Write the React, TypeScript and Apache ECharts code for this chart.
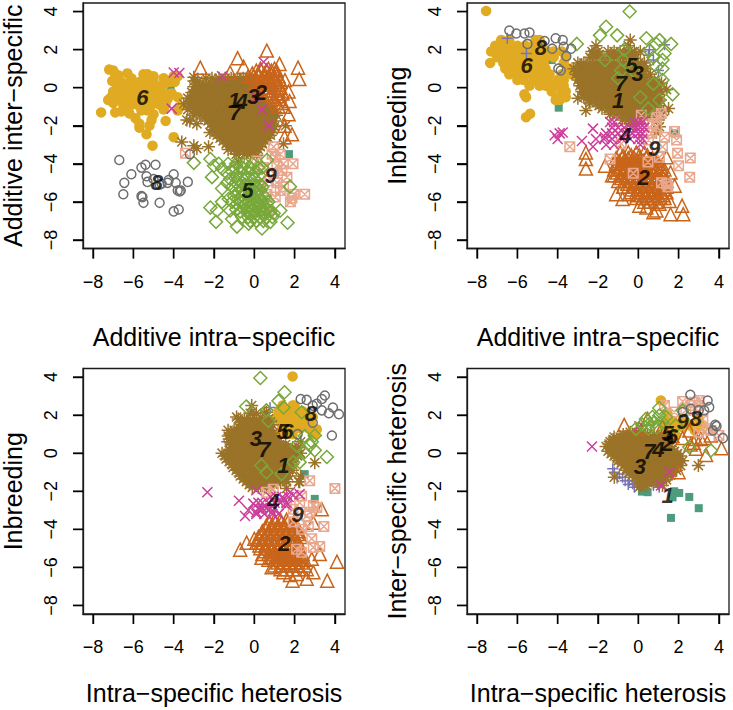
import React, { useEffect, useRef } from "react";
import * as echarts from "echarts";

const tickValues = [-8, -6, -4, -2, 0, 2, 4];
const groupColors = ["#4E9C7E", "#C8651B", "#7A74B5", "#CC3E9A", "#78A83A", "#E0AB22", "#9A7329", "#6E6E6E", "#E9A78E"];
const groupNames = ["1", "2", "3", "4", "5", "6", "7", "8", "9"];

// Flat lists are x,y,x,y...  Rows lists are [y, x, x, x...]
// Panel 1
const p1g1 = [-4.15,0, 1.72,-3.49];
const p1g2 = [.62,1.95, -.83,1.55, -.53,1.1, -2.68,1.05, 1.25,1.25, 2.17,1.05, 2.23,.45, 1.52,.4, 1.7,-.2, 1.75,-.7, 1.7,-1.4, 1.5,-2, 1.87,-2.45, 1.5,-2.6, -1.2,.8];
const p1g2Rows = [[1,.3,.7,1],[.9,.1,.35,.6,.85,1.1],[.75,-.1,.2,.5,.8,1.05],[.6,-.3,-.05,.2,.45,.7,.95,1.2],[.45,.1,.4,.7,1,1.25],[.3,.05,.3,.55,.8,1.05,1.3],[.15,.3,.6,.9,1.2],[0,.5,.75,1,1.3],[-.15,.6,.9,1.2],[-.3,.8,1.1,1.4],[-.45,.9,1.2],[-.6,1,1.3],[-.8,1.1,1.4],[-1,1.2,1.45]];
const p1g3 = [-.77,.25, -.6,.15, .9,-.3];
const p1g4 = [-3.72,.77, -4,.8, .46,1.35, -1.6,.6, .38,-1.14, .71,-1.98, -4.1,-1.1, .1,-.5];
const p1g5 = [-3,-3.95, -2.18,-3.75, -2,-4.1, -2.1,-4.7, -1.6,-4.25, -1.77,-4, -1.35,-4.5, -1.6,-5.3, -1.35,-5, -2.18,-6.3, -1.85,-6.45, -1.9,-7.05, -1.6,-6, -1.27,-5.85, -1.2,-6.45, -1.1,-6.9, -.86,-7.3, -.28,-7.15, .38,-7.4, .8,-7.05, 1.65,-7.1, 1.29,-6.45, .96,-6.6, .38,-4.2, .63,-3.8, 1.77,-5.2];
const p1g5Rows = [[-4,-1.3,-.9,-.5,-.1],[-4.2,-1,-.6,-.2,.2],[-4.4,-1.1,-.7,-.3,.1],[-4.6,-.9,-.5,-.1,.25],[-4.8,-1.2,-.8,-.4,0],[-5,-.9,-.6,-.2,.2],[-5.1,-.45,-.05,.3],[-5.2,-1.1,-.7,-.3,.1,.4],[-5.4,-.9,-.6,-.1,.3],[-5.5,-.8,-.5,-.2,.1],[-5.7,-1,-.6,-.2,.2,.5],[-5.85,-.8,-.4,0,.3],[-6,-1.1,-.7,-.3,.1,.4,.7],[-6.1,-.85,-.45,-.05,.25,.6],[-6.2,-.5,-.2,.2,.5],[-6.4,-.9,-.5,-.1,.3,.6],[-6.5,-.7,-.35,.05,.45,.8],[-6.6,-.3,0,.4],[-6.8,-.6,-.3,0,.3,.6,.9],[-7,-.2,.1,.45]];
const p1g6 = [-7.2,.95, -7,.9, -6.9,.6, -7.05,.35, -6.75,.65, -6.6,.3, -6.3,.75, -5.5,.7, -5.3,.7, -5.7,.3, -5.5,.3, -5.2,.3, -5,.3, -4.95,0, -4.6,.1, -4,.6, -3.8,.6, -3.95,.3, -4.2,.3, -6.3,.2, -6,.05, -5.8,0, -5.4,0, -5.2,-.1, -7.1,-.5, -7.25,-.65, -7,-.8, -7.6,-1.3, -6.9,-1.3, -6.6,-1.25, -6.2,-1.35, -5.9,-1.6, -5.7,-2.1, -5.7,-1.9, -5,-1.4, -5.1,-1.7, -5.2,-2, -5.35,-2.45, -4.4,-1.75, -4,-2.6, -5.05,-3.05, -3.8,-.5, -3.7,-1, -3.8,-1.2, -6.1,.5, -5,.6, -4.5,.5, -4.4,.25, -6.6,-.1, -7,-.2, -6.8,0, -4.5,-1.15, -6.4,-1.05];
const p1g6Rows = [[-.3,-6.6,-6.2,-5.9,-5.6,-5.3,-5,-4.7,-4.4,-4.1],[-.6,-6.8,-6.4,-6.1,-5.8,-5.5,-5.2,-4.9,-4.6,-4.3],[-.9,-6.5,-6.1,-5.8,-5.4,-5.1,-4.7,-4.4],[-1.2,-5.6,-5.3]];
const p1g7 = [-3.6,-2.85, -3,-3.05, -2.85,-3.2, -2.27,-3.1, -.78,-3.9, .13,-3.55, 1.45,-2.95, 1.55,-2, -3.35,-1.7, -2.85,-1.9, -3,.55];
const p1g7Rows = [[.35,-3,-2.8,-1.9,-1.6,-1.3,-1,-.7,-.4,-.1],[.05,-3,-2.7,-2.4,-2.1,-1.8,-1.5,-1.2,-.9,-.6,-.3,0,.3],[-.25,-3.1,-2.8,-2.5,-2.2,-1.9,-1.6,-1.3,-1,-.7,-.4,-.1,.2],[-.55,-3.3,-3,-2.7,-2.4,-2.1,-1.8,-1.5,-1.2,-.9,-.6,-.3,0,.3],[-.85,-3.5,-3.2,-2.9,-2.6,-2.3,-2,-1.7,-1.4,-1.1,-.8,-.5,-.2,.1,.4,.7],[-1.15,-3.3,-3,-2.7,-2.4,-2.1,-1.8,-1.5,-1.2,-.9,-.6,-.3,0,.3,.6,.9],[-1.45,-3,-2.7,-2.4,-2.1,-1.8,-1.5,-1.2,-.9,-.6,-.3,0,.3,.6,.9,1.1],[-1.75,-3.2,-2.3,-2,-1.7,-1.4,-1.1,-.8,-.5,-.2,.1,.4,.7,1],[-2.05,-2,-1.7,-1.4,-1.1,-.8,-.5,-.2,.1,.4,.7,1],[-2.35,-2.2,-1.9,-1.6,-1.3,-1,-.7,-.4,-.1,.2,.5,.8],[-2.65,-1.7,-1.4,-1.1,-.8,-.5,-.2,.1,.4,.7],[-2.95,-1.4,-1.1,-.8,-.5,-.2,.1,.4],[-3.25,-1.3,-1,-.7,-.4,-.1,.2],[-3.5,-.9,-.5,-.2]];
const p1g7Extra = [[.5,-2.4,-2.1,-1.75,-1.45,-1.15,-.85,-.55,-.25],[.2,-2.85,-2.55,-2.25,-1.95,-1.65,-1.35,-1.05,-.75,-.45,-.15,.15],[-.1,-2.85,-2.55,-2.25,-1.95,-1.65,-1.35,-1.05,-.75,-.45,-.15,.15],[-.4,-3.05,-2.65,-2.35,-2.05,-1.75,-1.45,-1.15,-.85,-.55,-.25,.05,.35],[-.7,-3.15,-2.85,-2.55,-2.25,-1.95,-1.65,-1.35,-1.05,-.75,-.45,-.15,.15,.45],[-1,-3.15,-2.85,-2.55,-2.25,-1.95,-1.65,-1.35,-1.05,-.75,-.45,-.15,.15,.45,.75],[-1.3,-2.85,-2.55,-2.25,-1.95,-1.65,-1.35,-1.05,-.75,-.45,-.15,.15,.45,.75,1.05],[-1.6,-2.45,-2.15,-1.85,-1.55,-1.25,-.95,-.65,-.35,-.05,.25,.55,.85],[-1.9,-2.15,-1.85,-1.55,-1.25,-.95,-.65,-.35,-.05,.25,.55,.85],[-2.2,-2.05,-1.75,-1.45,-1.15,-.85,-.55,-.25,.05,.35,.65,.95],[-2.5,-1.85,-1.55,-1.25,-.95,-.65,-.35,-.05,.25,.55,.8],[-2.8,-1.55,-1.25,-.95,-.65,-.35,-.05,.25,.55],[-3.1,-1.15,-.85,-.55,-.25,.05,.3],[-3.35,-.75,-.35,-.05]];
const p1g8 = [-6.7,-3.8, -6.1,-4.55, -6.45,-5, -6.5,-5.6, -5.6,-4.2, -5.4,-4.05, -4.9,-4.05, -5.35,-4.65, -5.3,-4.95, -5,-4.8, -4.7,-5.1, -4.6,-5.05, -4.25,-4.85, -4,-4.55, -3.9,-5, -3.3,-4.95, -3.8,-5.4, -3.65,-5.4, -3.7,-5.45, -4.3,-5, -5.6,-5.7, -5.55,-5.75, -5.5,-6.05, -4.7,-6.05, -4,-6.5, -3.75,-6.4, -3.2,-3.5];
const p1g9 = [-3.42,-3.44, 2.5,-5.6, 1.95,-5.6, 1.87,-5.8, 1.79,-6, 1.92,-4, 1.62,-4.7, 1.37,-4.35, 1.45,-4, .96,-3.1, 1.04,-3.65, 1.12,-4.1, .96,-4.5, .71,-4.9, 1.12,-5, 1.29,-5.4, 1.04,-5.75, .63,-5.6, .71,-6.45, .3,-5.2, .46,-4.2, .13,-3.85, .88,-3.5, 1.29,-3.5, 1.45,-5.2];
const p1Labels = [[-1,-.67],[.33,-.23],[-.05,-.44],[-.63,-.75],[-.33,-5.4],[-5.55,-.49],[-.94,-1.28],[-4.84,-5],[.81,-4.6]];

// Panel 2
const p2g1 = [-3.95,-1.05, 1.8,-2.4, -4.3,1.45];
const p2g2 = [-2.6,-3.4, -2.6,-3.75, -2.6,-4.25, -1.65,-4.1, -1.3,-4.6, -1.1,-5.6, -.78,-5.85, .05,-6.2, .75,-6.55, 1.6,-6.65, 2.23,-6.65, 2.17,-6.2, 1.55,-5.95, 1.8,-5.15, 1.6,-4.45, 1.4,-3.65, -.75,-5.2, -.45,-5.6, 1.05,-6.1, .4,-6.3, .9,-6.45];
const p2g2Rows = [[-3.4,-.9,-.5,-.1,.3],[-3.55,-.75,-.35,.05,.45],[-3.7,-1.1,-.8,-.5,-.2,.1,.4,.7],[-3.85,-.95,-.65,-.35,-.05,.25,.55,.85],[-4,-1.1,-.8,-.5,-.2,.1,.4,.7,1],[-4.15,-.95,-.65,-.35,-.05,.25,.55,.85,1.15],[-4.3,-1.2,-.9,-.6,-.3,0,.3,.6,.9,1.3],[-4.45,-1.05,-.75,-.45,-.15,.15,.45,.75,1.1],[-4.6,-1.2,-.9,-.6,-.3,0,.3,.6,.9,1.3],[-4.75,-.85,-.55,-.25,.05,.35,.65,.95,1.25],[-4.9,-1,-.7,-.4,-.1,.2,.5,.8,1.1,1.4],[-5.05,-.55,-.25,.05,.35,.65,.95,1.25],[-5.2,-.5,-.2,.1,.4,.7,1,1.4],[-5.35,-.35,-.05,.25,.55,.85,1.25],[-5.5,-.4,-.1,.2,.5,.8,1.1,1.4],[-5.65,-.05,.35,.65,.95,1.25],[-5.8,-.1,.2,.5,.8,1.1,1.3],[-6,.3,.6,.9]];
const p2g3 = [1.3,2.25, .5,1.7, .3,1.35, 1,.9, .55,2, .75,1.45, -6.5,2.6, -5.55,1.8];
const p2g4 = [-3.9,-2.4, -3.75,-2.35, -4.15,-2.5, -4,-2.7, -2.8,-2.8, -2.25,-2.15, -2.1,-2.7, -2.25,-3.1, -1.65,-2.6];
const p2g4Rows = [[-1.8,-1.4,-1.2,-.2,0,.2],[-2.1,-1.3,-1,-.7,-.4,-.1,.1,.3],[-2.4,-1.6,-1.3,-1,-.6,-.3,0,.2],[-2.7,-1.7,-1.3,-.8,-.4,0,.2],[-3,-1.6,-1.2,.1]];
const p2g5 = [-.43,4, -1.6,3.2, -1.9,2.75, -1.05,2.75, -3.05,2.3, .4,2.6, 1.05,2.5, 1.63,2.3, .9,2.3, 1.3,1.8, -1.65,1.45, 1.2,1.45, 1.2,1, -.85,.9, -1,.5, 1.7,-.35, .1,-.5, 1.05,-.65, .5,-1.1, -.75,1.45, .55,1.95, .9,1.1, 1.2,.4, -.7,2, .75,.2, -.25,.9, .75,1.6];
const p2g6 = [-7.55,4.03, -5.65,-.35, -5.57,-.5, -5.37,-1.37, -5.57,-1.55, -7.35,1.3, -4.1,-.65, -3.9,-.65];
const p2g6Rows = [[2.5,-6.8,-6.4,-5.1,-4.9],[2.2,-7.1,-6.8,-6.4,-6,-5.6,-5.2,-4.8],[1.9,-7.3,-6.9,-6.5,-6.1,-5.7,-5.3,-4.9,-4.5,-4.2,-3.8],[1.6,-7,-6.6,-6.2,-5.8,-5.4,-5,-4.6,-4.2,-3.6],[1.3,-6.7,-6.3,-5.9,-5.5,-5.1,-4.7,-3.7],[1,-6.6,-6.2,-5.8,-5.4,-5,-4.6,-3.4],[.7,-6.4,-6,-5.6,-5.2,-4.8,-4.4,-3.8,-3.3],[.4,-6,-5.7,-5.2,-4.8,-4.5,-4,-3.7],[.1,-5.4,-4.9,-4.6,-4.2,-3.8,-3.7],[-.2,-4.3,-3.8,-3.6],[-.5,-3.9,-3.6]];
const p2g7 = [-.4,2.5, -.5,2.2, -2.1,2.2, 1.4,-.1, 1.5,-1.1, 1,-1.7, 1.05,-2.05, .9,-2.35, -2.6,-1.2, -3,-.55];
const p2g7Rows = [[1.9,-2.3,-2,-1.5,-1.2,-.9,-.5,-.2,.1],[1.6,-2.4,-2.1,-1.8,-1.5,-1.2,-.9,-.6,-.3],[1.3,-3,-2.7,-2.4,-2.1,-1.8,-1.5,-1.2,-.9,-.6,-.3,0,.3],[1,-3.2,-2.9,-2.6,-2.3,-2,-1.7,-1.4,-1.1,-.8,-.5,-.2,.1,.4],[.7,-3.1,-2.8,-2.5,-2.2,-1.9,-1.6,-1.3,-1,-.7,-.4,-.1,.2,.6],[.4,-3,-2.7,-2.4,-2.1,-1.8,-1.5,-1.2,-.9,-.6,-.3,0,.3,.8],[.1,-2.9,-2.6,-2.3,-2,-1.7,-1.4,-1.1,-.8,-.5,-.2,.1,.4,.7,1],[-.2,-2.8,-2.5,-2.2,-1.9,-1.6,-1.3,-1,-.7,-.4,-.1,.2,.5,.8,1.1],[-.5,-2.7,-2.4,-2.1,-1.8,-1.5,-1.2,-.9,-.6,-.3,0,.3,.8],[-.8,-2.4,-2.1,-1.8,-1.5,-1.2,-.9,-.6,-.3,0,.3,.7],[-1.1,-1.8,-1.5,-1.2,-.9,-.6,-.3,0,.3,.5],[-1.4,-1.4,-1.1,-.8,-.5,-.2,.1,.2],[-1.7,-.8,-.5,-.2,.2],[-1.9,-.4,-.1]];
const p2g7Extra = [[1.15,-2.85,-2.55,-2.25,-1.95,-1.65,-1.35,-1.05,-.75,-.45,-.15,.15],[.85,-3.05,-2.75,-2.45,-2.15,-1.85,-1.55,-1.25,-.95,-.65,-.35,-.05,.25],[.55,-2.95,-2.65,-2.35,-2.05,-1.75,-1.45,-1.15,-.85,-.55,-.25,.05,.4],[.25,-2.85,-2.55,-2.25,-1.95,-1.65,-1.35,-1.05,-.75,-.45,-.15,.15,.55,.85,1.15],[-.05,-2.75,-2.45,-2.15,-1.85,-1.55,-1.25,-.95,-.65,-.35,-.05,.25,.55,.85],[-.35,-2.65,-2.35,-2.05,-1.75,-1.45,-1.15,-.85,-.55,-.25,.05,.35,.65,1],[-.65,-2.45,-2.15,-1.85,-1.55,-1.25,-.95,-.65,-.35,-.05,.25,.55,.85,1.1],[-.95,-1.95,-1.65,-1.35,-1.05,-.75,-.45,-.15,.15,.45,.75,1.05],[-1.25,-1.25,-.95,-.65,-.35,-.05,.25,.55,.85,1.25],[-1.55,-.65,-.35,-.05,.5],[1.75,-2.25,-1.95,-1.35,-1.05,-.75,-.45,-.15]];
const p2g8 = [-6.4,3, -6.05,2.85, -5.65,2.85, -5.4,2.9, -5.5,2.3, -4.65,2.45, -4.27,2.05, -4.1,2.6, -3.75,2.5, -3.7,2.15, -3.33,2.05, -3.57,1.65, -3.97,1, -3.85,.9];
const p2g9 = [-3.4,-3.1, 1.8,-2.3, 1.9,-2.75, 1.95,-3.45, 2.58,-3.7, 2,-4.1, 2.55,-4.7, 1.3,-2.6, .73,-1.9, .9,-1.55, 1.14,-1.35, .15,-1.45, .5,-2.75, -.85,-2.95, -1.4,-3.75, 1.15,-5, 1.4,-5.05, 1.47,-5.2, .48,-3.9, -.25,-4.5, 1.05,-3.65, .65,-2.4, .9,-2.05, 1.2,-3.1];
const p2Labels = [[-1,-.67],[.26,-4.7],[-.03,.77],[-.64,-2.5],[-.33,1.14],[-5.54,1.18],[-.86,.21],[-4.83,2.09],[.79,-3.2]];

// Panel 3
const p3g1 = [3,-2.4, 2.5,-1.1];
const p3g2 = [-.7,-5.07, -.38,-4.7, 0,-4.5, 3.35,-2.95, 2.93,-3.65, 4.1,-5.7, 3.62,-6.7, 2.6,-6.6, 1.9,-6.7, 2.93,-6.25, 2.6,-6.1, 3.25,-5.3, 2.85,-5.55, .36,-5.5, .86,-6, 1.44,-6.25, 1.77,-6.4, 2.1,-6.35];
const p3g2Rows = [[-3.5,1,1.3,1.6],[-3.65,.75,1.05,1.35,1.65,1.95],[-3.8,.6,.9,1.2,1.5,1.8,2.1],[-3.95,.55,.85,1.15,1.45,1.75,2.05],[-4.1,.4,.7,1,1.3,1.6,1.9,2.2],[-4.25,.35,.65,.95,1.25,1.55,1.85,2.15],[-4.4,.2,.5,.8,1.1,1.4,1.7,2,2.3],[-4.55,.25,.55,.85,1.15,1.45,1.75,2.05],[-4.7,.1,.4,.7,1,1.3,1.6,1.9,2.2],[-4.85,.25,.55,.85,1.15,1.45,1.75,2.05],[-5,.3,.6,.9,1.2,1.5,1.8,2.2],[-5.15,.55,.85,1.15,1.45,1.75,2.05],[-5.3,.4,.7,1,1.3,1.6,1.9,2.4],[-5.45,.85,1.15,1.45,1.75,2.05,2.35],[-5.6,.7,1,1.3,1.6,1.9,2.2,2.5],[-5.75,1.15,1.45,1.75,2.05,2.35],[-5.9,1,1.3,1.6,1.9,2.2,2.5],[-6.1,1.3,1.6,1.9,2.2]];
const p3g3 = [-.05,2, -.88,1.2, -1.2,.75, -1.37,.6, .6,.9, .78,2.4, -.3,1.8];
const p3g4 = [-2.33,-2.05, -.76,-2.5, -.46,-3.3, -.3,-3, -.05,-2.65, .1,-3.1, .2,-2.6, .36,-3, .86,-3.1, .1,-1.95, 2.25,-2.15, 1.77,-2.05, 1.44,-2.4, 1.6,-2.75, 1.93,-2.2];
const p3g4Rows = [[-2.9,.2,.4,.6,.8,1],[-2.6,.4,.7,1,1.3,1.6],[-2.3,.8,1.1,1.4,1.7],[-3.2,.1,.5,.9,1.2]];
const p3g5 = [.3,3.95, 1.5,3.2, 1.2,2.75, -.4,2.45, .6,2.25, .7,1.7, 1.45,2.4, 3.6,-.2, 3,.15, 2.85,.6, 2.5,.05, 2.25,-.47, 1.93,-.47, .35,-.65, 2.5,.9, 2.35,2.15, 1.35,-1.1, .6,-1, 3,.93, 2.76,.4, 2.1,.4];
const p3g6 = [1.9,4.03, 3.1,1.25, 3,1];
const p3g6Rows = [[2.5,1.4,1.9,2],[2.2,1.2,1.5,1.8,2.1,2.4],[1.9,1.1,1.4,1.7,2,2.3,2.6,2.9],[1.6,1.3,1.6,1.9,2.2,2.5,2.8],[1.3,1.4,1.7,2,2.3,2.7],[1,1.3,1.6,1.9,2.9]];
const p3g7 = [-.13,2.5, -.88,1.9, .6,2.15, 3,-.5, 2.25,-1.5, 1.6,-1.85];
const p3g7Rows = [[2.1,-.2,.1,.5],[1.8,-.8,-.5,-.2,.1,.4,.7],[1.5,-.6,-.3,0,.3,.6,.9],[1.2,-1.3,-1,-.7,-.4,-.1,.2,.5,.8],[.9,-1.3,-1,-.7,-.4,-.1,.2,.5,.8,1],[.6,-1.2,-.9,-.6,-.3,0,.3,.6,.9,1.2,2.3],[.3,-1.1,-.8,-.5,-.2,.1,.4,.7,1,1.3,1.6,1.9,2.2],[0,-1.6,-1.3,-1,-.7,-.4,-.1,.2,.5,.8,1.1,1.4,1.7,2,2.3],[-.3,-1.4,-1.1,-.8,-.5,-.2,.1,.4,.7,1,1.3,1.6,1.9],[-.6,-1.1,-.8,-.5,-.2,.1,.4,.7,1,1.3,1.6,1.9],[-.9,-.9,-.6,-.3,0,.3,.6,.9,1.2,1.5,1.9],[-1.2,-.7,-.4,-.1,.2,.5,.8,1.1,1.4,1.7,2.3],[-1.5,-.4,-.1,.2,.5,.8,1.1,1.3,1.6,2.2],[-1.8,-.1,.2,.5,.8]];
const p3g7Extra = [[1.65,-.65,-.35,-.05,.25,.55,.8],[1.35,-.75,-.45,-.15,.15,.45,.75],[1.05,-1.15,-.85,-.55,-.25,.05,.35,.65,.95],[.75,-1.25,-.95,-.65,-.35,-.05,.25,.55,.85,1.05],[.45,-1.15,-.85,-.55,-.25,.05,.35,.65,.95,1.25,1.55],[.15,-1.25,-.95,-.65,-.35,-.05,.25,.55,.85,1.15,1.45,1.75,2.05],[-.15,-1.45,-1.15,-.85,-.55,-.25,.05,.35,.65,.95,1.25,1.55,1.85,2.15],[-.45,-1.25,-.95,-.65,-.35,-.05,.25,.55,.85,1.15,1.45,1.75],[-.75,-1.05,-.75,-.45,-.15,.15,.45,.75,1.05,1.35,1.65],[-1.05,-.75,-.45,-.15,.15,.45,.75,1.05,1.35,1.65],[-1.35,-.55,-.25,.05,.35,.65,.95,1.25,1.55],[-1.65,-.25,.05,.35,.65,.95]];
const p3g8 = [2.3,2.85, 2.6,2.8, 3.5,3.03, 3.35,2.85, 2.9,2.5, 3.35,2.25, 3.9,2.4, 3.7,2.1, 4.2,2.05, 2.9,1.6, 3.85,.93, 2.15,1, 3.1,2.6];
const p3g9 = [2.75,-1.45, 4,-1.85, 3.45,-3.85, 2.68,-3.85, 3.25,-4.9, 2.85,-4.5, 2.93,-4.95, 2.35,-5.2, 2.1,-5.05, 2.35,-2.25, 2.75,-3.1, 3.1,-2.85, 2.6,-3.3, 2.25,-2.6, 1.93,-2.95, 1.6,-2.6, .6,-2.05, .94,-1.9, 2.93,-2.75, 1.93,-3.6, 2.35,-4];
const p3Labels = [[1.44,-.65],[1.49,-4.72],[.08,.79],[.94,-2.54],[1.4,1.14],[1.64,1.16],[.5,.18],[2.81,2.07],[2.15,-3.23]];

// Panel 4
const p4g1 = [.18,-2.02, .46,-2.05, 1.78,-2, 2.03,-2.09, 2.53,-2.3, 3,-2.89, 1.62,-3.4, 1.7,-2.32];
const p4g2 = [-.7,1.49, .46,1.8, 4.13,.26, 3.36,-.09, 2.86,.23, 3.1,.75, 3.6,.93, 2.53,1.19, 2,-1, .05,1.3, 2.86,.75, 2.6,.45, 2.75,.55, 3.3,.8, 1.2,1.4, 1.7,.9, 2.2,.8];
const p4g3 = [-1.19,-1, -.94,-1.09, -.78,-1.26, -.45,-1.44, -.28,-1.6, .2,-1.35, .55,-1.35, 1.04,-1.79, -.2,-1.79, -1.27,-.82, -1.05,-1.3, -.65,-1.45, -.5,-1.65, -.05,-1.5, .4,-1.6, .75,-1.7];
const p4g4 = [-2.3,.35, .05,1.42, 1.12,-1.7, 1.54,-1];
const p4g5 = [1.04,2.37, .38,1.8, -.12,1.28, .8,1.63, 3.6,.14, 2.53,.32, 1.04,1.98, 1.37,1.9, 2.2,2.25, 1.87,1.45, .55,1.54, .2,1.5, .5,1.3, .9,1.35, 1.2,1.6, .7,1.9];
const p4g6 = [1.12,2.77, 1.45,2.07, 1.37,1.63, 1.62,1.1, 1.78,1.37, 2.2,1.37, 2.36,1.63, 2.6,1.45, 3.1,1.45, 3,1.8, 1.62,.75, 1.87,.93, 2,1.5, 1.3,1.28, 1.7,1.7, 2.8,1.2];
const p4g7 = [2.98,-.65, -1.19,-1.26, .05,-1.79];
const p4g7Rows = [[1.1,-.4,-.1,.2],[.85,-1.2,-.9,-.6,-.3,0,.3,.6,1,1.3],[.6,-1.4,-1.1,-.8,-.5,-.2,.1,.4,.7,1,1.4],[.35,-1.6,-1.3,-1,-.7,-.4,-.1,.2,.5,.8,1.1,1.6],[.1,-1.5,-1.2,-.9,-.6,-.3,0,.3,.6,.9,1.2,1.5,1.8],[-.15,-1.2,-.9,-.6,-.3,0,.3,.6,.9,1.2,1.5,1.8,2.1],[-.4,-1,-.7,-.4,-.1,.2,.5,.8,1.1,1.4,1.7,2,2.2],[-.65,-.7,-.4,-.1,.2,.5,.8,1.1,1.4,1.7,2.1],[-.9,-.6,-.3,0,.3,.6,.9,1.2,1.5,1.9],[-1.15,-.3,0,.3,.6,.9,1.2,1.6],[-1.4,0,.3,.6,.9,1.2,1.4],[-1.7,.1,.4,1.2]];
const p4g7Extra = [[.98,-.75,-.45,-.15,.15,.45,.8,1.15],[.72,-1.25,-.95,-.65,-.35,-.05,.25,.55,.85,1.2],[.48,-1.45,-1.15,-.85,-.55,-.25,.05,.35,.65,.95,1.25],[.22,-1.35,-1.05,-.75,-.45,-.15,.15,.45,.75,1.05,1.35,1.65],[-.02,-1.35,-1.05,-.75,-.45,-.15,.15,.45,.75,1.05,1.35,1.65,1.95],[-.28,-1.05,-.75,-.45,-.15,.15,.45,.75,1.05,1.35,1.65,1.95],[-.52,-.85,-.55,-.25,.05,.35,.65,.95,1.25,1.55,1.85],[-.78,-.55,-.25,.05,.35,.65,.95,1.25,1.55,1.85],[-1.02,-.45,-.15,.15,.45,.75,1.05,1.35,1.65],[-1.28,-.15,.15,.45,.75,1.05,1.35],[-1.55,.15,.45,.75,1.05]];
const p4g8 = [2.58,3.07, 3.44,2.77, 3.52,2.42, 3.27,2.25, 3,2.25, 2.6,2.33, 2.2,2.16, 3.82,1.49, 3.88,1.42, 3.7,1.19, 4.2,.79];
const p4g9 = [2.2,2.72, 2.6,2.5, 3.02,2.77, 3,2.5, 1.78,2.16, 1.3,2.5, 3.6,1.19, 4,.93, 3.44,1.28, 3,1.1, 2.36,2.25, 2.78,2.68, 3.2,1.8];
const p4Labels = [[1.45,-2.23],[1.45,.49],[.08,-.7],[.99,.18],[1.45,1.02],[1.67,.88],[.55,.09],[2.86,1.81],[2.2,1.68]];

const pairs = (flat: number[]) => {
  const out: number[][] = [];
  for (let i = 0; i < flat.length; i += 2) out.push([flat[i], flat[i + 1]]);
  return out;
};
const rows = (list: number[][]) => list.flatMap(([y, ...xs]) => xs.map((x) => [x, y]));

const panels = [
  { xName: "Additive intra\u2212specific", yName: "Additive inter\u2212specific", left: 83, top: 3, xGap: 76, labels: p1Labels,
    groups: [pairs(p1g1), [...rows(p1g2Rows), ...pairs(p1g2)], pairs(p1g3), pairs(p1g4), [...rows(p1g5Rows), ...pairs(p1g5)], [...rows(p1g6Rows), ...pairs(p1g6)], [...rows(p1g7Rows), ...rows(p1g7Extra), ...pairs(p1g7)], pairs(p1g8), pairs(p1g9)] },
  { xName: "Additive intra\u2212specific", yName: "Inbreeding", left: 467, top: 3, xGap: 76, labels: p2Labels,
    groups: [pairs(p2g1), [...rows(p2g2Rows), ...pairs(p2g2)], pairs(p2g3), [...rows(p2g4Rows), ...pairs(p2g4)], pairs(p2g5), [...rows(p2g6Rows), ...pairs(p2g6)], [...rows(p2g7Rows), ...rows(p2g7Extra), ...pairs(p2g7)], pairs(p2g8), pairs(p2g9)] },
  { xName: "Intra\u2212specific heterosis", yName: "Inbreeding", left: 83, top: 368.5, xGap: 66, labels: p3Labels,
    groups: [pairs(p3g1), [...rows(p3g2Rows), ...pairs(p3g2)], pairs(p3g3), [...rows(p3g4Rows), ...pairs(p3g4)], pairs(p3g5), [...rows(p3g6Rows), ...pairs(p3g6)], [...rows(p3g7Rows), ...rows(p3g7Extra), ...pairs(p3g7)], pairs(p3g8), pairs(p3g9)] },
  { xName: "Intra\u2212specific heterosis", yName: "Inter\u2212specific heterosis", left: 467, top: 368.5, xGap: 66, labels: p4Labels,
    groups: [pairs(p4g1), pairs(p4g2), pairs(p4g3), pairs(p4g4), pairs(p4g5), pairs(p4g6), [...rows(p4g7Rows), ...rows(p4g7Extra), ...pairs(p4g7)], pairs(p4g8), pairs(p4g9)] },
];

const SHAPES: { symbol: string; size: number; filled: boolean }[] = [
  { symbol: "rect", size: 8, filled: true },
  { symbol: "path://M5 0L10 8.66L0 8.66Z", size: 13, filled: false },
  { symbol: "path://M5 0V10M0 5H10", size: 11, filled: false },
  { symbol: "path://M0 0L10 10M0 10L10 0", size: 10, filled: false },
  { symbol: "path://M5 0L10 5L5 10L0 5Z", size: 13, filled: false },
  { symbol: "circle", size: 10.5, filled: true },
  { symbol: "path://M5 0V10M0 5H10M1.5 1.5L8.5 8.5M1.5 8.5L8.5 1.5", size: 13, filled: false },
  { symbol: "circle", size: 9, filled: false },
  { symbol: "path://M0 0H10V10H0ZM0 0L10 10M0 10L10 0", size: 9.5, filled: false },
];
const drawOrder = [0, 5, 2, 6, 1, 8, 3, 4, 7];
const FONT = '"Liberation Sans", Arial, sans-serif';
const X_MIN = -8.5, X_MAX = 4.5, Y_MIN = -8.45, Y_MAX = 4.45;
const TICK_LEN = 10;

export default function App() {
  const ref = useRef<HTMLDivElement>(null);
  useEffect(() => {
    document.body.style.margin = "0";
    const chart = echarts.init(ref.current!, undefined, { renderer: "svg" });
    const grid: any[] = [], xAxis: any[] = [], yAxis: any[] = [], series: any[] = [];
    panels.forEach((p, i) => {
      grid.push({ left: p.left, top: p.top, width: 262, height: 245.5, show: true, outerBoundsMode: "none", containLabel: false, borderColor: "#1a1a1a", borderWidth: 1.3 });
      const axisBase = {
        type: "value", gridIndex: i, splitLine: { show: false },
        axisLine: { show: true, onZero: false, lineStyle: { color: "#1a1a1a", width: 1.3 } },
        axisTick: { show: true, length: TICK_LEN, customValues: tickValues, lineStyle: { color: "#000", width: 1.4 } },
        nameLocation: "middle",
        nameTextStyle: { fontFamily: FONT, fontSize: 25, color: "#000" },
      };
      const tickFmt = (v: number) => String(v).replace("-", "\u2212");
      xAxis.push({ ...axisBase, position: "bottom", min: X_MIN, max: X_MAX, name: p.xName, nameGap: p.xGap, axisLabel: { customValues: tickValues, margin: 24, fontFamily: FONT, fontSize: 18, color: "#000", formatter: tickFmt } });
      yAxis.push({ ...axisBase, position: "left", min: Y_MIN, max: Y_MAX, name: p.yName, nameGap: 57.5, axisLabel: { customValues: tickValues, rotate: 90, margin: 23, fontFamily: FONT, fontSize: 18, color: "#000", formatter: tickFmt } });
      drawOrder.forEach((g) => {
        const s = SHAPES[g];
        series.push({
          type: "scatter", xAxisIndex: i, yAxisIndex: i, silent: true, clip: false, symbol: s.symbol, symbolSize: s.size,
          itemStyle: s.filled ? { color: groupColors[g], opacity: 1 } : { color: "transparent", borderColor: groupColors[g], borderWidth: 1.5, opacity: 1 },
          data: p.groups[g],
        });
      });
      series.push({
        type: "scatter", xAxisIndex: i, yAxisIndex: i, silent: true, clip: false, symbolSize: 0, z: 10,
        data: p.labels.map((v, k) => ({ name: groupNames[k], value: v })),
        label: { show: true, position: "inside", formatter: "{b}", fontFamily: FONT, fontSize: 22, fontWeight: "bold", fontStyle: "italic", color: "#000" },
      });
    });
    chart.setOption({ animation: false, backgroundColor: "#fff", grid, xAxis, yAxis, series });
    const tickGraphics: any[] = [];
    panels.forEach((_, i) => {
      tickValues.forEach((v) => {
        const [bx, by] = chart.convertToPixel({ gridIndex: i }, [v, Y_MIN]) as number[];
        const [lx, ly] = chart.convertToPixel({ gridIndex: i }, [X_MIN, v]) as number[];
        tickGraphics.push({ type: "line", z: 50, shape: { x1: bx, y1: by, x2: bx, y2: by + TICK_LEN }, style: { stroke: "#000", lineWidth: 1.4 } });
        tickGraphics.push({ type: "line", z: 50, shape: { x1: lx, y1: ly, x2: lx - TICK_LEN, y2: ly }, style: { stroke: "#000", lineWidth: 1.4 } });
      });
    });
    chart.setOption({ graphic: tickGraphics });
    return () => chart.dispose();
  }, []);
  return <div ref={ref} style={{ width: 733, height: 710 }} />;
}
